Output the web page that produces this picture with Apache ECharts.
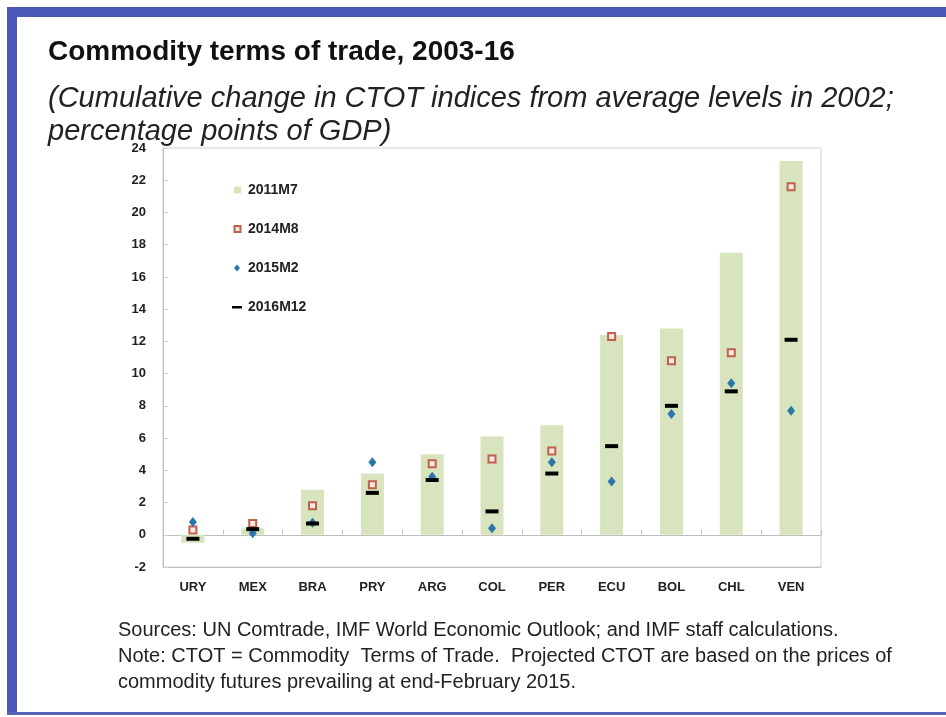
<!DOCTYPE html>
<html>
<head>
<meta charset="utf-8">
<script src="https://cdn.jsdelivr.net/npm/echarts@6/dist/echarts.min.js"></script>
<style>
html,body{margin:0;padding:0;background:#fff;}
#chart{width:946px;height:717px;}
</style>
</head>
<body>
<div id="chart"></div>
<script>
var categories = ['URY','MEX','BRA','PRY','ARG','COL','PER','ECU','BOL','CHL','VEN'];
var s2011M7  = [-0.5, 0.4, 2.8, 3.8, 5.0, 6.1, 6.8, 12.4, 12.8, 17.5, 23.2];
var s2014M8  = [0.3, 0.7, 1.8, 3.1, 4.4, 4.7, 5.2, 12.3, 10.8, 11.3, 21.6];
var s2015M2  = [0.8, 0.1, 0.75, 4.5, 3.6, 0.4, 4.5, 3.3, 7.5, 9.4, 7.7];
var s2016M12 = [-0.25, 0.35, 0.7, 2.6, 3.4, 1.45, 3.8, 5.5, 8.0, 8.9, 12.1];
var yTicks = {min: -2, max: 24, interval: 2};

var FONT = "'Liberation Sans', Arial, sans-serif";
var chart = echarts.init(document.getElementById('chart'), null, {renderer: 'canvas'});
var option = {
  backgroundColor: '#ffffff',
  animation: false,
  title: [
    {text: 'Commodity terms of trade, 2003-16', left: 48, top: 36, padding: 0,
     textStyle: {fontFamily: FONT, fontSize: 28, fontWeight: 'bold', color: '#111', lineHeight: 32}},
    {text: '(Cumulative change in CTOT indices from average levels in 2002;\npercentage points of GDP)', left: 48, top: 82, padding: 0,
     textStyle: {fontFamily: FONT, fontSize: 29, fontStyle: 'italic', fontWeight: 'normal', color: '#222', lineHeight: 33}},
    {text: 'Sources: UN Comtrade, IMF World Economic Outlook; and IMF staff calculations.\nNote: CTOT = Commodity  Terms of Trade.  Projected CTOT are based on the prices of\ncommodity futures prevailing at end-February 2015.', left: 118, top: 617, padding: 0,
     textStyle: {fontFamily: FONT, fontSize: 20, fontWeight: 'normal', color: '#222', lineHeight: 26}}
  ],
  graphic: [
    {type: 'rect', shape: {x: 7, y: 7, width: 939, height: 10}, style: {fill: '#4a57b5'}, z: 100},
    {type: 'rect', shape: {x: 7, y: 7, width: 10, height: 707}, style: {fill: '#4a57b5'}, z: 100},
    {type: 'rect', shape: {x: 7, y: 712, width: 939, height: 3}, style: {fill: '#5664b4'}, z: 100}
  ],
  legend: {
    orient: 'vertical', left: 230, top: 183, padding: 0,
    itemWidth: 12, itemHeight: 12, itemGap: 25,
    textStyle: {fontFamily: FONT, fontSize: 14, fontWeight: 'bold', color: '#222', lineHeight: 13},
    data: [
      {name: '2011M7', icon: 'path://M0,0M12,12M3,2.5L10,2.5L10,9.5L3,9.5Z'},
      {name: '2014M8', icon: 'path://M0,0M12,12M3.5,3L9.5,3L9.5,9L3.5,9Z'},
      {name: '2015M2', icon: 'path://M0,0M12,12M6,2.5L9,6L6,9.5L3,6Z'},
      {name: '2016M12', icon: 'path://M0,0M12,12M1,5L11,5L11,7.5L1,7.5Z'}
    ]
  },
  grid: {left: 163, right: 125, top: 148, bottom: 150, show: true, borderColor: '#cfcfcf', borderWidth: 1, containLabel: false},
  xAxis: [
    {type: 'category', data: categories, position: 'bottom',
     axisLine: {show: true, onZero: false, lineStyle: {color: '#bfbfbf'}},
     axisTick: {show: false},
     axisLabel: {margin: 14, fontFamily: FONT, fontSize: 13, fontWeight: 'bold', color: '#222'}},
    {type: 'category', data: categories, position: 'bottom',
     axisLine: {show: true, onZero: true, lineStyle: {color: '#bfbfbf'}},
     axisTick: {show: true, inside: true, length: 5, lineStyle: {color: '#bfbfbf'}},
     axisLabel: {show: false}}
  ],
  yAxis: {
    type: 'value', min: yTicks.min, max: yTicks.max, interval: yTicks.interval,
    axisLine: {show: true, lineStyle: {color: '#bfbfbf'}},
    axisTick: {show: true, inside: true, length: 5, lineStyle: {color: '#cfcfcf'}},
    splitLine: {show: false},
    axisLabel: {margin: 17, fontFamily: FONT, fontSize: 13, fontWeight: 'bold', color: '#222'}
  },
  series: [
    {name: '2011M7', type: 'bar', data: s2011M7, barWidth: 23, itemStyle: {color: '#d7e4bd'}},
    {name: '2014M8', type: 'scatter', data: s2014M8, symbol: 'rect', symbolSize: 7,
     itemStyle: {color: '#fde8e2', borderColor: '#c0604d', borderWidth: 2, opacity: 1}},
    {name: '2015M2', type: 'scatter', data: s2015M2, symbol: 'diamond', symbolSize: [8, 10],
     itemStyle: {color: '#2a76a8', opacity: 1}},
    {name: '2016M12', type: 'scatter', data: s2016M12, symbol: 'rect', symbolSize: [13, 4],
     itemStyle: {color: '#000000', opacity: 1}}
  ]
};
chart.setOption(option);
</script>
</body>
</html>
